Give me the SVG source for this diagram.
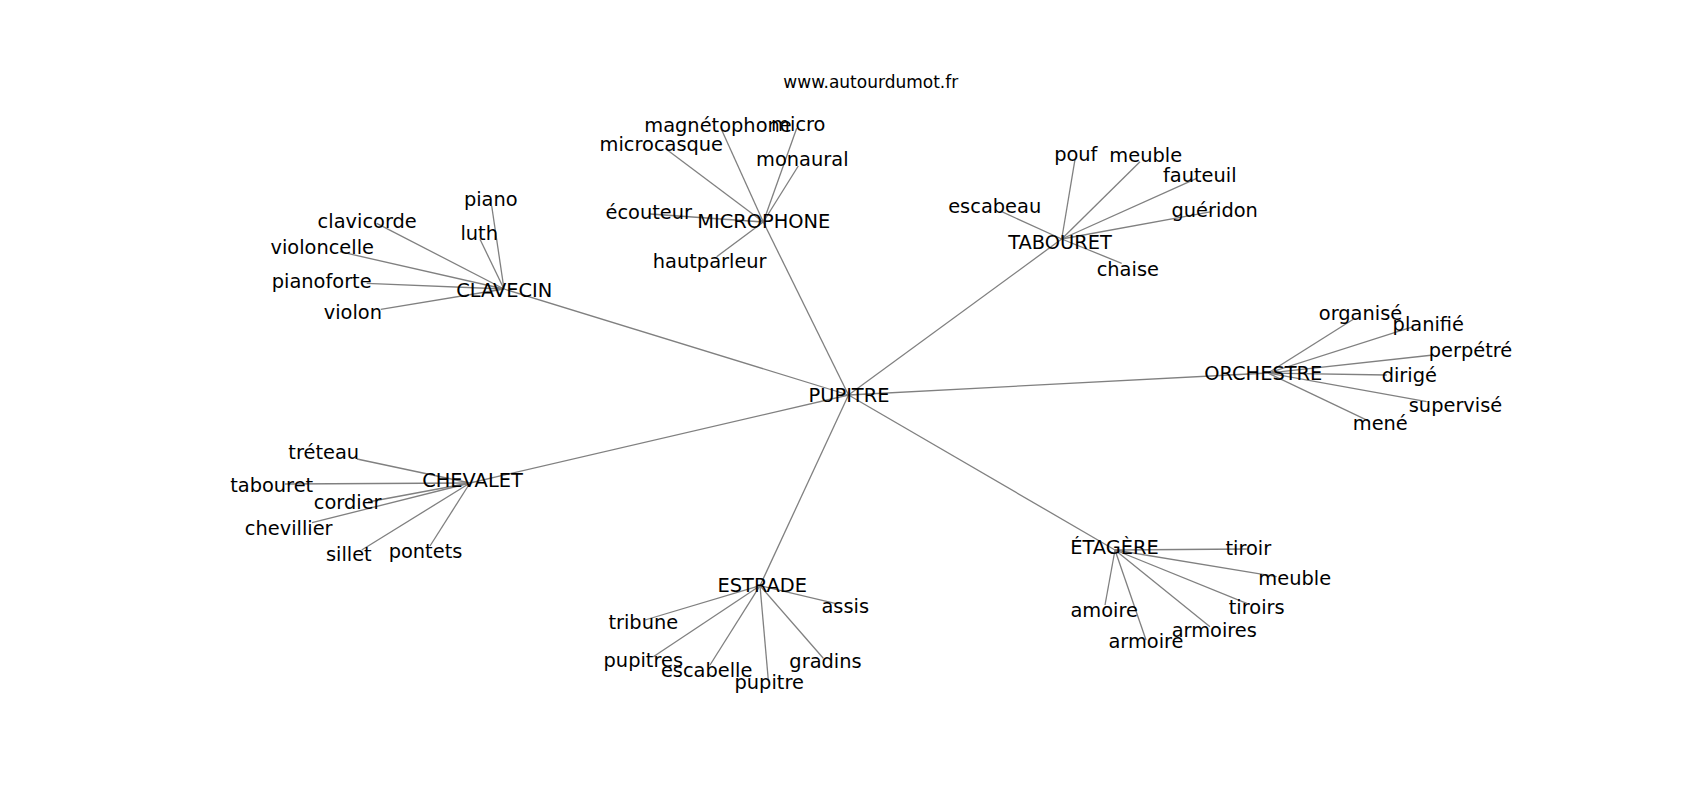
<svg xmlns="http://www.w3.org/2000/svg" width="1700" height="800" viewBox="0 0 1700 800">
<style>
.e{stroke:#808080;stroke-width:1.3;fill:none}
text{font-family:"DejaVu Sans",sans-serif;font-size:19.4px;fill:#000;text-anchor:middle}
.t{font-size:17px}
</style>
<rect width="1700" height="800" fill="#fff"/>
<g id="connectors" class="e">
<line x1="848.5" y1="395" x2="504" y2="289"/>
<line x1="848.5" y1="395" x2="763.3" y2="222"/>
<line x1="848.5" y1="395" x2="1061.7" y2="239"/>
<line x1="848.5" y1="395" x2="1268" y2="373"/>
<line x1="848.5" y1="395" x2="1115" y2="550"/>
<line x1="848.5" y1="395" x2="760" y2="585.7"/>
<line x1="848.5" y1="395" x2="470" y2="483"/>
<line x1="504" y1="289" x2="491.7" y2="206"/>
<line x1="504" y1="289" x2="376.7" y2="223.3"/>
<line x1="504" y1="289" x2="480" y2="239.3"/>
<line x1="504" y1="289" x2="340" y2="251.7"/>
<line x1="504" y1="289" x2="366.7" y2="283.3"/>
<line x1="504" y1="289" x2="380.7" y2="309.3"/>
<line x1="470" y1="483" x2="357" y2="459"/>
<line x1="470" y1="483" x2="285" y2="484"/>
<line x1="470" y1="483" x2="368" y2="502"/>
<line x1="470" y1="483" x2="312" y2="522.7"/>
<line x1="470" y1="483" x2="361.7" y2="550"/>
<line x1="470" y1="483" x2="430" y2="546"/>
<line x1="760" y1="585.7" x2="835" y2="603.3"/>
<line x1="760" y1="585.7" x2="645" y2="620"/>
<line x1="760" y1="585.7" x2="653.3" y2="656.7"/>
<line x1="760" y1="585.7" x2="710" y2="665"/>
<line x1="760" y1="585.7" x2="768.3" y2="680"/>
<line x1="760" y1="585.7" x2="823.3" y2="658.3"/>
<line x1="1115" y1="550" x2="1246.7" y2="549"/>
<line x1="1115" y1="550" x2="1276.7" y2="576.7"/>
<line x1="1115" y1="550" x2="1246.7" y2="603.3"/>
<line x1="1115" y1="550" x2="1210" y2="626.7"/>
<line x1="1115" y1="550" x2="1105" y2="605"/>
<line x1="1115" y1="550" x2="1146" y2="640"/>
<line x1="1061.7" y1="239" x2="1075" y2="159.3"/>
<line x1="1061.7" y1="239" x2="1140" y2="161.7"/>
<line x1="1061.7" y1="239" x2="1196.7" y2="178.3"/>
<line x1="1061.7" y1="239" x2="1001.7" y2="211.7"/>
<line x1="1061.7" y1="239" x2="1211.7" y2="211.7"/>
<line x1="1061.7" y1="239" x2="1121.7" y2="263.3"/>
<line x1="1268" y1="373" x2="1353.3" y2="319.3"/>
<line x1="1268" y1="373" x2="1413.3" y2="326.7"/>
<line x1="1268" y1="373" x2="1433.3" y2="355"/>
<line x1="1268" y1="373" x2="1386.7" y2="375"/>
<line x1="1268" y1="373" x2="1426.7" y2="401.7"/>
<line x1="1268" y1="373" x2="1370" y2="421.7"/>
<line x1="763.3" y1="222" x2="721.7" y2="130"/>
<line x1="763.3" y1="222" x2="796.7" y2="128.3"/>
<line x1="763.3" y1="222" x2="665" y2="148.3"/>
<line x1="763.3" y1="222" x2="798.3" y2="166"/>
<line x1="763.3" y1="222" x2="650" y2="214"/>
<line x1="763.3" y1="222" x2="716.7" y2="256.7"/>
</g>
<text class="t" x="870.8" y="88.3">www.autourdumot.fr</text>
<g id="n-PUPITRE"><text x="849" y="401.7">PUPITRE</text></g>
<g id="n-CLAVECIN"><text x="504.2" y="297.3">CLAVECIN</text></g>
<g id="n-CHEVALET"><text x="472.5" y="487.3">CHEVALET</text></g>
<g id="n-ESTRADE"><text x="762.3" y="591.7">ESTRADE</text></g>
<g id="n-ETAGERE"><text x="1114.5" y="554.3">ÉTAGÈRE</text></g>
<g id="n-TABOURET"><text x="1060" y="249.3">TABOURET</text></g>
<g id="n-ORCHESTRE"><text x="1263.3" y="380">ORCHESTRE</text></g>
<g id="n-MICROPHONE"><text x="763.8" y="228.3">MICROPHONE</text></g>
<g id="n-piano"><text x="490.8" y="206">piano</text></g>
<g id="n-clavicorde"><text x="367.2" y="228.3">clavicorde</text></g>
<g id="n-luth"><text x="479.2" y="240">luth</text></g>
<g id="n-violoncelle"><text x="322.2" y="254">violoncelle</text></g>
<g id="n-pianoforte"><text x="321.7" y="287.7">pianoforte</text></g>
<g id="n-violon"><text x="352.8" y="319.3">violon</text></g>
<g id="n-treteau"><text x="323.7" y="459.3">tréteau</text></g>
<g id="n-tabouret"><text x="271.7" y="491.7">tabouret</text></g>
<g id="n-cordier"><text x="347.7" y="509.3">cordier</text></g>
<g id="n-chevillier"><text x="288.7" y="535">chevillier</text></g>
<g id="n-sillet"><text x="348.8" y="560.7">sillet</text></g>
<g id="n-pontets"><text x="425.5" y="558.3">pontets</text></g>
<g id="n-assis"><text x="845.2" y="612.7">assis</text></g>
<g id="n-tribune"><text x="643.3" y="629">tribune</text></g>
<g id="n-pupitres"><text x="643.3" y="666.7">pupitres</text></g>
<g id="n-escabelle"><text x="706.7" y="676.7">escabelle</text></g>
<g id="n-pupitre"><text x="769.2" y="689">pupitre</text></g>
<g id="n-gradins"><text x="825.5" y="667.7">gradins</text></g>
<g id="n-tiroir"><text x="1248.3" y="555">tiroir</text></g>
<g id="n-meuble-e"><text x="1294.7" y="585">meuble</text></g>
<g id="n-tiroirs"><text x="1256.7" y="614.3">tiroirs</text></g>
<g id="n-armoires"><text x="1214.3" y="636.7">armoires</text></g>
<g id="n-amoire"><text x="1104.2" y="616.7">amoire</text></g>
<g id="n-armoire"><text x="1146" y="647.7">armoire</text></g>
<g id="n-pouf"><text x="1075.8" y="160.7">pouf</text></g>
<g id="n-meuble-t"><text x="1145.7" y="161.7">meuble</text></g>
<g id="n-fauteuil"><text x="1199.8" y="181.7">fauteuil</text></g>
<g id="n-escabeau"><text x="994.7" y="212.7">escabeau</text></g>
<g id="n-gueridon"><text x="1214.7" y="217.3">guéridon</text></g>
<g id="n-chaise"><text x="1127.8" y="276">chaise</text></g>
<g id="n-organise"><text x="1360.5" y="320">organisé</text></g>
<g id="n-planifie"><text x="1428.3" y="330.7">planifié</text></g>
<g id="n-perpetre"><text x="1470.5" y="356.7">perpétré</text></g>
<g id="n-dirige"><text x="1409.3" y="381.7">dirigé</text></g>
<g id="n-supervise"><text x="1455.5" y="411.7">supervisé</text></g>
<g id="n-mene"><text x="1380.3" y="430">mené</text></g>
<g id="n-magnetophone"><text x="718" y="131.7">magnétophone</text></g>
<g id="n-micro"><text x="798.3" y="130.7">micro</text></g>
<g id="n-microcasque"><text x="661.3" y="150.7">microcasque</text></g>
<g id="n-monaural"><text x="802.3" y="166">monaural</text></g>
<g id="n-ecouteur"><text x="648.8" y="219.3">écouteur</text></g>
<g id="n-hautparleur"><text x="709.7" y="268.3">hautparleur</text></g>
</svg>
